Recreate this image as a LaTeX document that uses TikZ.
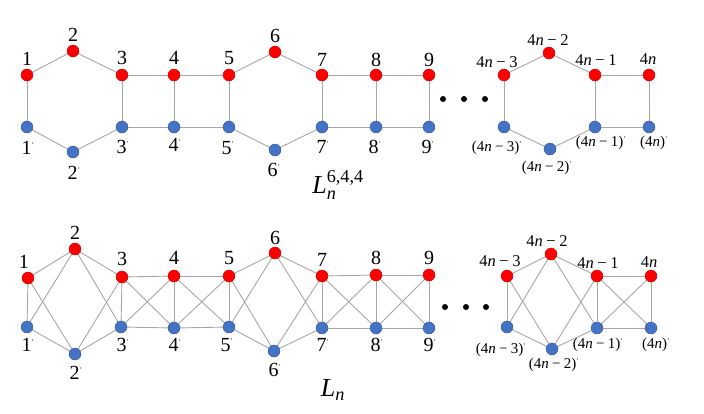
\documentclass[tikz,border=0pt]{standalone}
\usepackage{amsmath}
\usepackage{fontspec}
\setmainfont{Liberation Serif}
\definecolor{rfill}{HTML}{FF0000}
\definecolor{rdraw}{HTML}{C00000}
\definecolor{bfill}{HTML}{4472C4}
\definecolor{bdraw}{HTML}{2F5597}
\definecolor{edgec}{HTML}{A6A6A6}
\newcommand{\pr}{\textsuperscript{\fontsize{7}{7}\selectfont '}}
\newcommand{\mn}{\:\textminus\:}
\tikzset{
  rnode/.style={circle,fill=rfill,draw=rdraw,line width=0.4pt,minimum size=12pt,inner sep=0pt},
  bnode/.style={circle,fill=bfill,draw=bdraw,line width=0.4pt,minimum size=12pt,inner sep=0pt},
  edge/.style={draw=edgec,line width=0.9pt},
  lab/.style={inner sep=0pt,font=\fontsize{20}{20}\selectfont},
  labf/.style={inner sep=0pt,font=\fontsize{16.5}{16.5}\selectfont},
  labp/.style={inner sep=0pt,font=\fontsize{15}{15}\selectfont},
  dotn/.style={circle,fill=black,minimum size=6pt,inner sep=0pt},
  titl/.style={inner sep=0pt,font=\fontsize{26}{26}\selectfont}
}
\begin{document}
\begin{tikzpicture}[x=1pt,y=-1pt]
\useasboundingbox (0,0) rectangle (704,413);
% ---------------- top graph L_n^{6,4,4}
\foreach \n/\x/\y in {1/27/75,2/73/51,3/122/75,4/174/75,5/229/75,6/275/52,7/322/75,8/376/75,9/429/75,a/504/75,b/549/53,c/595/75,d/649/75}
  \coordinate (s\n) at (\x,\y);
\foreach \n/\x/\y in {1/27/127,2/73/152,3/122/127,4/174/127,5/229/127,6/275/150,7/322/127,8/376/127,9/429/127,a/504/127,b/550/149,c/595/127,d/649/127}
  \coordinate (sp\n) at (\x,\y);
\foreach \a/\b in {1/2,2/3,3/4,4/5,5/6,6/7,7/8,8/9,a/b,b/c,c/d}{
  \draw[edge] (s\a) -- (s\b);
  \draw[edge] (sp\a) -- (sp\b);
}
\foreach \a in {1,3,4,5,7,8,9,a,c,d}
  \draw[edge] (s\a) -- (sp\a);
\foreach \n in {1,2,3,4,5,6,7,8,9,a,b,c,d}{
  \node[rnode] (t\n) at (s\n) {};
  \node[bnode] (tp\n) at (sp\n) {};
}
% labels
\foreach \t/\x/\y in {1/27/59,2/73/35,3/122/58,4/174/58,5/229/58,6/275/36,7/322/60,8/376/60,9/429/60}
  \node[lab] (tl\t) at (\x,\y) {\t};
\foreach \t/\x/\y in {1/28/148,2/74/173,3/123/147,4/175/145,5/228/148,6/274/170,7/323/147,8/375/147,9/428/147}
  \node[lab] (tlp\t) at (\x,\y) {\t\pr};
\node[labf] (tla) at (497,62) {4\textit{n}\mn3};
\node[labf] (tlb) at (548,40) {4\textit{n}\mn2};
\node[labf] (tlc) at (596,60) {4\textit{n}\mn1};
\node[labf] (tld) at (648,59) {4\textit{n}};
\node[labp] (tlpa) at (497,148) {(4\textit{n}\mn3)\pr};
\node[labp] (tlpb) at (547,168) {(4\textit{n}\mn2)\pr};
\node[labp] (tlpc) at (601,143) {(4\textit{n}\mn1)\pr};
\node[labp] (tlpd) at (654,143) {(4\textit{n})\pr};
\foreach \i/\x in {1/443,2/464,3/485}
  \node[dotn] (td\i) at (\x,99) {};
\node[titl] (ttitle) at (338,185) {$\textit{L}_{\textit{n}}^{\text{6,4,4}}$};
% ---------------- bottom graph L_n
\foreach \n/\x/\y in {1/28/278,2/75/249,3/122/277,4/174/276,5/229/276,6/275/253,7/322/276,8/376/275,9/429/275,a/507/276,b/551/254,c/597/276,d/651/276}
  \coordinate (c\n) at (\x,\y);
\foreach \n/\x/\y in {1/27/327,2/75/354,3/121/327,4/174/328,5/229/327,6/274/351,7/322/328,8/376/328,9/429/328,a/507/327,b/552/349,c/597/328,d/651/328}
  \coordinate (cp\n) at (\x,\y);
\foreach \a/\b in {1/2,2/3,3/4,4/5,5/6,6/7,7/8,8/9,a/b,b/c,c/d}{
  \draw[edge] (c\a) -- (c\b);
  \draw[edge] (cp\a) -- (cp\b);
  \draw[edge] (c\a) -- (cp\b);
  \draw[edge] (cp\a) -- (c\b);
}
\foreach \a in {1,3,4,5,7,8,9,a,c,d}
  \draw[edge] (c\a) -- (cp\a);
\foreach \n in {1,2,3,4,5,6,7,8,9,a,b,c,d}{
  \node[rnode] (b\n) at (c\n) {};
  \node[bnode] (bp\n) at (cp\n) {};
}
\foreach \t/\x/\y in {1/24/262,2/75/233,3/122/259,4/174/258,5/229/258,6/275/238,7/322/260,8/376/258,9/429/258}
  \node[lab] (bl\t) at (\x,\y) {\t};
\foreach \t/\x/\y in {1/28/345,2/76/373,3/123/345,4/175/345,5/227/345,6/275/370,7/323/345,8/377/345,9/430/345}
  \node[lab] (blp\t) at (\x,\y) {\t\pr};
\node[labf] (bla) at (500,261) {4\textit{n}\mn3};
\node[labf] (blb) at (547,241) {4\textit{n}\mn2};
\node[labf] (blc) at (598,263) {4\textit{n}\mn1};
\node[labf] (bld) at (649,262) {4\textit{n}};
\node[labp] (blpa) at (501,350) {(4\textit{n}\mn3)\pr};
\node[labp] (blpb) at (554,365) {(4\textit{n}\mn2)\pr};
\node[labp] (blpc) at (598,345) {(4\textit{n}\mn1)\pr};
\node[labp] (blpd) at (656,345) {(4\textit{n})\pr};
\foreach \i/\x in {1/445,2/466,3/486}
  \node[dotn] (bd\i) at (\x,307) {};
\node[titl] (btitle) at (333,390) {$\textit{L}_{\textit{n}}$};
\end{tikzpicture}
\end{document}
